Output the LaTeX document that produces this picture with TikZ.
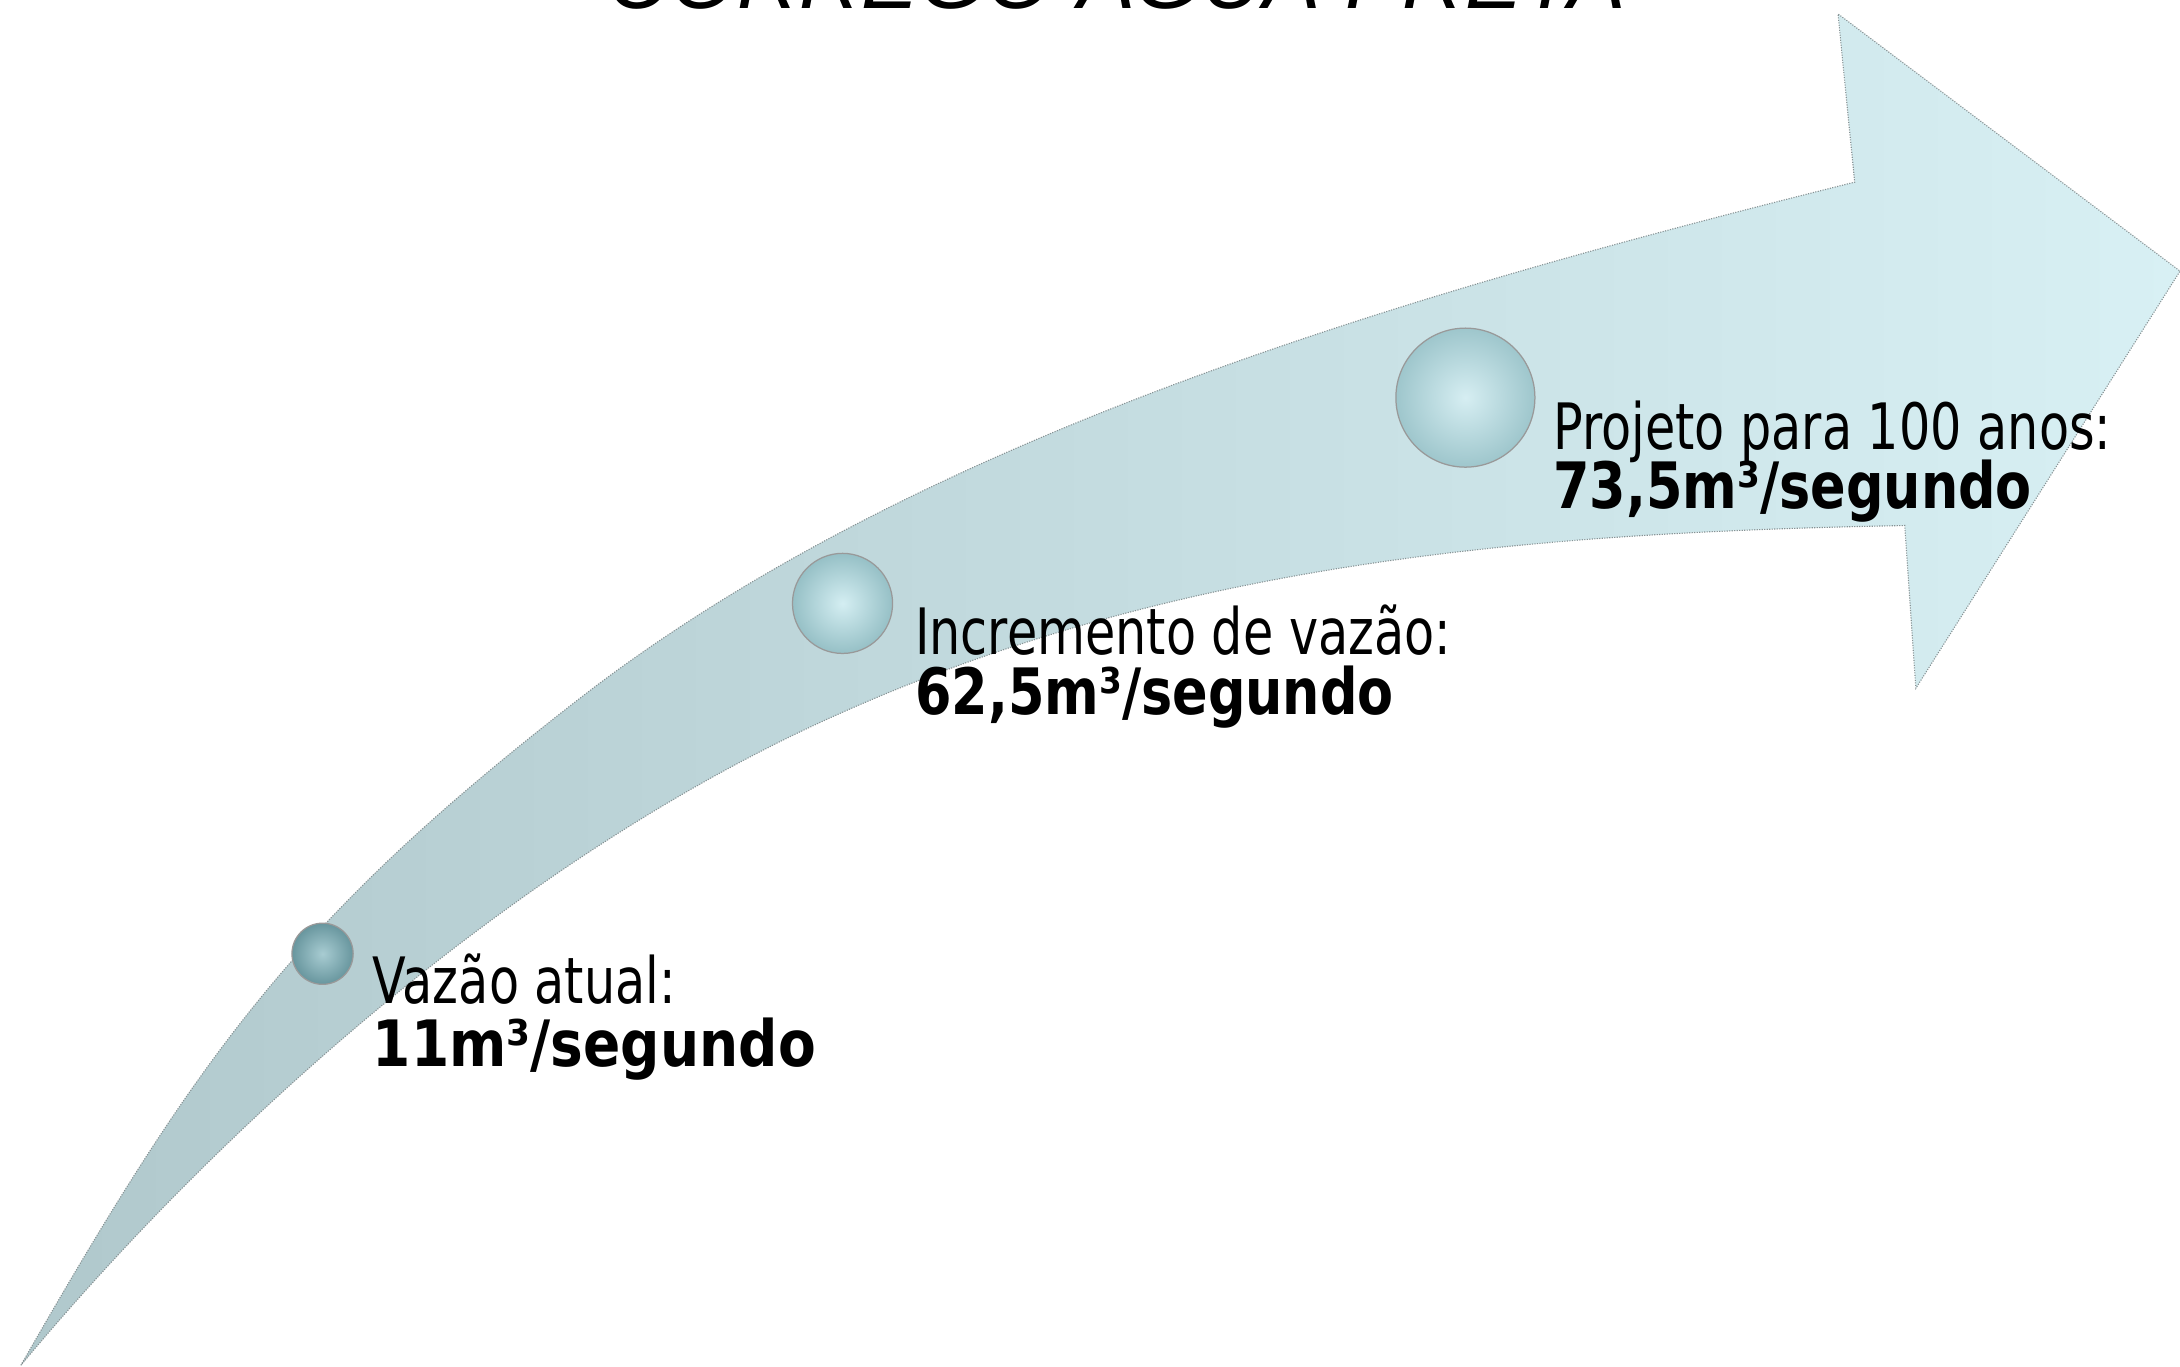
\documentclass[tikz,border=0pt]{standalone}
\usepackage{fontspec}
\setmainfont{DejaVu Sans}
\newfontfamily\regf{DejaVu Sans}[FakeStretch=0.77]
\newfontfamily\boldf{DejaVu Sans}[FakeStretch=0.82]
\newfontfamily\boldwf{DejaVu Sans}[FakeStretch=0.86]
\newfontfamily\titlef{Liberation Sans}
\definecolor{tailc}{RGB}{176,200,204}
\definecolor{headc}{RGB}{216,240,244}
\definecolor{edgec}{RGB}{135,146,148}
\definecolor{smallin}{RGB}{168,204,210}
\definecolor{smallout}{RGB}{104,150,158}
\definecolor{midin}{RGB}{212,238,242}
\definecolor{midout}{RGB}{150,192,198}
\definecolor{bigin}{RGB}{214,238,242}
\definecolor{bigout}{RGB}{158,198,204}
\tikzset{
  lab/.style={anchor=base west, inner sep=0pt, text=black, font=\regf\fontsize{46}{50}\selectfont},
  labb/.style={anchor=base west, inner sep=0pt, text=black, font=\boldf\bfseries\fontsize{46}{50}\selectfont},
  btn/.style={circle, inner sep=0pt, shading=radial, draw=gray!80, line width=0.9pt},
}
\begin{document}
\begin{tikzpicture}[x=1pt,y=-1pt]
\useasboundingbox (0,0) rectangle (1568,983);
\clip (0,0) rectangle (1568,983);
% title (cut off at top)
\node[anchor=base west, inner sep=0pt, font=\titlef\itshape\fontsize{62}{62}\selectfont] (title) at (437,6) {CÓRREGO ÁGUA PRETA};
% curved arrow
\shade[left color=tailc, right color=headc, draw=edgec, line width=0.8pt, densely dotted]
  (15,982) .. controls (144,757) and (214,659) .. (420,500)
           .. controls (670,308) and (1030,207) .. (1334,131)
  -- (1322,10) -- (1568,195) -- (1378,495) -- (1370,378)
           .. controls (1100,383) and (846,404) .. (600,515)
           .. controls (390,609) and (175,790) .. (15,982)
  -- cycle;
% buttons
\node[btn, inner color=smallin, outer color=smallout, minimum size=44pt] (b1) at (232,686) {};
\node[btn, inner color=midin, outer color=midout, minimum size=72pt] (b2) at (606,434) {};
\node[btn, inner color=bigin, outer color=bigout, minimum size=100pt] (b3) at (1054,286) {};
% labels
\node[lab] (t1) at (268,722) {Vazão atual:};
\node[labb, font=\boldwf\bfseries\fontsize{46}{50}\selectfont] (v1) at (268,767) {11m³/segundo};
\node[lab] (t2) at (658,471) {Incremento de vazão:};
\node[labb] (v2) at (658,514) {62,5m³/segundo};
\node[lab] (t3) at (1117,323) {Projeto para 100 anos:};
\node[labb] (v3) at (1117,366) {73,5m³/segundo};
\end{tikzpicture}
\end{document}
